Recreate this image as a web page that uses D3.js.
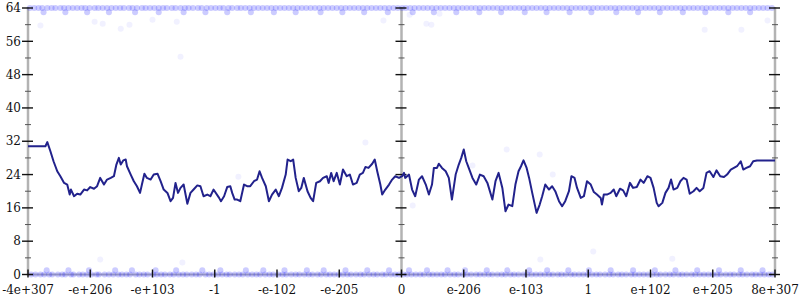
<!DOCTYPE html>
<html>
<head>
    <title>Float distribution</title>
    <script src="https://d3js.org/d3.v7.min.js"></script>
    <style>
        body { margin: 0; background: #fff; }
        text { font-family: "DejaVu Serif", serif; font-size: 12px; fill: #111; }
    </style>
</head>
<body>
<svg width="800" height="300"></svg>
<script>
    // x positions are in tick units along the axis (-6 .. 6), one unit per labelled tick
    const xTickLabels = ["-4e+307", "-e+206", "-e+103", "-1", "-e-102", "-e-205", "0",
                         "e-206", "e-103", "1", "e+102", "e+205", "8e+307"];
    const yTicks = [0, 8, 16, 24, 32, 40, 48, 56, 64];

    // running average line
    const avgX = [-6.00, -5.72, -5.69, -5.64, -5.59, -5.53, -5.48, -5.42, -5.37, -5.33, -5.31, -5.26, -5.21, -5.16,
        -5.10, -5.05, -5.00, -4.94, -4.89, -4.84, -4.78, -4.73, -4.67, -4.62, -4.58, -4.54, -4.51, -4.47, -4.43,
        -4.41, -4.35, -4.30, -4.25, -4.20, -4.17, -4.13, -4.09, -4.03, -3.98, -3.92, -3.87, -3.82, -3.76, -3.71,
        -3.67, -3.63, -3.59, -3.55, -3.50, -3.44, -3.39, -3.34, -3.28, -3.23, -3.18, -3.12, -3.07, -3.02, -2.93,
        -2.90, -2.85, -2.80, -2.75, -2.72, -2.68, -2.64, -2.59, -2.53, -2.48, -2.43, -2.37, -2.32, -2.28, -2.24,
        -2.18, -2.13, -2.08, -2.02, -1.97, -1.92, -1.86, -1.83, -1.78, -1.74, -1.70, -1.65, -1.61, -1.57, -1.51,
        -1.46, -1.42, -1.37, -1.31, -1.26, -1.20, -1.17, -1.13, -1.09, -1.04, -0.99, -0.94, -0.88, -0.83, -0.78,
        -0.72, -0.67, -0.62, -0.58, -0.53, -0.47, -0.43, -0.39, -0.34, -0.31, -0.26, -0.20, -0.15, -0.10, -0.04,
        0.01, 0.04, 0.06, 0.12, 0.17, 0.22, 0.28, 0.33, 0.39, 0.44, 0.49, 0.52, 0.57, 0.60, 0.65, 0.71, 0.76,
        0.81, 0.87, 0.92, 0.96, 1.00, 1.04, 1.08, 1.14, 1.20, 1.26, 1.32, 1.38, 1.46, 1.51, 1.56, 1.62, 1.67,
        1.72, 1.78, 1.83, 1.88, 1.92, 1.96, 2.01, 2.05, 2.10, 2.17, 2.22, 2.26, 2.31, 2.37, 2.42, 2.47, 2.53,
        2.58, 2.63, 2.69, 2.73, 2.78, 2.82, 2.88, 2.93, 2.98, 3.04, 3.09, 3.14, 3.20, 3.22, 3.25, 3.30, 3.36,
        3.41, 3.45, 3.51, 3.56, 3.61, 3.67, 3.72, 3.78, 3.84, 3.89, 3.95, 4.00, 4.05, 4.10, 4.13, 4.19, 4.24,
        4.29, 4.33, 4.37, 4.43, 4.48, 4.53, 4.58, 4.63, 4.69, 4.74, 4.79, 4.85, 4.90, 4.95, 5.01, 5.06, 5.12,
        5.18, 5.23, 5.29, 5.34, 5.39, 5.45, 5.49, 5.54, 5.60, 5.65, 5.71, 6.00];
    const avgY = [30.8, 30.8, 31.8, 29.6, 27.2, 24.8, 23.6, 22.0, 21.6, 19.2, 20.4, 18.8, 19.4, 19.2,
        20.4, 20.2, 21.0, 20.6, 21.2, 23.2, 21.6, 22.8, 23.2, 23.6, 26.4, 28.0, 26.4, 27.4, 27.6,
        26.0, 24.0, 22.4, 21.2, 19.6, 21.6, 24.2, 23.2, 22.8, 24.0, 24.2, 22.4, 20.4, 19.6, 17.6,
        18.4, 22.0, 19.6, 20.8, 21.6, 17.0, 19.6, 20.4, 21.4, 21.2, 18.8, 19.2, 18.8, 20.4, 18.4,
        17.6, 18.8, 21.0, 21.2, 19.6, 18.0, 18.0, 17.6, 21.6, 21.2, 21.2, 22.4, 22.8, 24.8, 23.2,
        21.2, 17.6, 19.2, 20.4, 18.8, 20.8, 24.0, 27.6, 27.2, 27.6, 23.2, 20.0, 20.8, 23.2, 20.0,
        18.4, 17.6, 22.0, 22.4, 23.2, 23.6, 22.0, 24.4, 22.4, 24.4, 21.6, 25.2, 23.6, 24.0, 21.6,
        22.0, 24.0, 24.4, 25.8, 25.6, 26.6, 27.6, 24.8, 21.6, 19.2, 20.4, 21.6, 22.8, 23.6, 23.2,
        23.6, 24.4, 23.2, 24.0, 20.4, 18.8, 22.8, 23.6, 21.6, 19.2, 21.6, 25.6, 25.6, 26.6, 25.6, 24.8, 23.2,
        18.0, 24.0, 26.4, 28.0, 30.0, 27.2, 25.6, 23.2, 21.6, 24.0, 23.6, 22.0, 18.0, 22.4, 24.4, 20.8, 15.2,
        16.8, 16.4, 21.6, 24.8, 26.0, 27.4, 25.6, 23.2, 19.6, 14.8, 16.8, 18.8, 21.6, 20.4, 21.2, 20.0, 17.6,
        16.4, 17.6, 20.0, 23.6, 23.2, 20.8, 18.4, 18.8, 22.4, 21.6, 19.8, 19.2, 18.4, 16.8, 19.2, 19.2, 19.6,
        20.4, 18.8, 20.6, 20.2, 18.8, 22.0, 20.8, 21.0, 22.8, 22.0, 23.6, 23.2, 20.8, 17.2, 16.4, 17.2, 19.6,
        20.8, 22.8, 20.4, 20.8, 22.4, 23.2, 22.8, 19.4, 20.0, 20.8, 20.0, 20.8, 24.4, 24.8, 23.4, 25.0, 23.6,
        23.4, 24.0, 25.2, 25.6, 26.0, 27.2, 25.2, 25.6, 26.0, 27.2, 27.4, 27.4];

    // samples piled at the bottom (0 and 1) and top (63 and 64)
    const lowX = [-5.95, -5.88, -5.80, -5.74, -5.66, -5.61, -5.52, -5.45, -5.40, -5.31, -5.27, -5.18, -5.12, -5.05,
        -4.98, -4.90, -4.86, -4.77, -4.70, -4.63, -4.55, -4.49, -4.42, -4.36, -4.27, -4.21, -4.14, -4.08, -3.99,
        -3.93, -3.86, -3.80, -3.72, -3.66, -3.58, -3.51, -3.45, -3.37, -3.30, -3.24, -3.15, -3.09, -3.02, -2.95,
        -2.88, -2.81, -2.76, -2.68, -2.61, -2.55, -2.47, -2.40, -2.33, -2.27, -2.19, -2.12, -2.06, -1.98, -1.91,
        -1.85, -1.77, -1.70, -1.64, -1.56, -1.49, -1.43, -1.35, -1.29, -1.21, -1.15, -1.08, -1.01, -0.94, -0.87,
        -0.81, -0.73, -0.66, -0.60, -0.52, -0.45, -0.39, -0.31, -0.25, -0.17, -0.10, -0.04, 0.03, 0.09, 0.16,
        0.23, 0.30, 0.36, 0.44, 0.50, 0.57, 0.64, 0.70, 0.78, 0.85, 0.91, 0.99, 1.05, 1.12, 1.20, 1.26, 1.33,
        1.40, 1.46, 1.54, 1.61, 1.67, 1.75, 1.81, 1.88, 1.96, 2.02, 2.09, 2.16, 2.23, 2.30, 2.37, 2.43, 2.51,
        2.57, 2.64, 2.72, 2.78, 2.85, 2.92, 2.99, 3.06, 3.13, 3.19, 3.27, 3.34, 3.40, 3.48, 3.54, 3.61, 3.69,
        3.75, 3.82, 3.89, 3.96, 4.03, 4.10, 4.16, 4.24, 4.31, 4.37, 4.45, 4.51, 4.58, 4.66, 4.72, 4.79, 4.86,
        4.93, 5.00, 5.07, 5.13, 5.21, 5.28, 5.34, 5.42, 5.48, 5.55, 5.63, 5.69, 5.76, 5.83, 5.90, 5.96];
    const low1X = [-5.70, -5.35, -5.02, -4.60, -4.33, -3.95, -3.62, -3.20, -2.91, -2.50, -2.22, -1.88, -1.52,
        -1.25, -0.90, -0.55, -0.20, 0.12, 0.41, 0.74, 1.02, 1.37, 1.70, 2.05, 2.34, 2.68, 3.01, 3.36, 3.72,
        4.07, 4.40, 4.75, 5.10, 5.45, 5.80];
    const highX = [-5.97, -5.90, -5.83, -5.77, -5.69, -5.62, -5.56, -5.48, -5.42, -5.35, -5.28, -5.21, -5.14,
        -5.08, -5.01, -4.93, -4.87, -4.80, -4.73, -4.66, -4.59, -4.52, -4.46, -4.38, -4.32, -4.25, -4.17, -4.11,
        -4.04, -3.97, -3.90, -3.83, -3.77, -3.69, -3.63, -3.55, -3.48, -3.42, -3.35, -3.27, -3.21, -3.13, -3.06,
        -2.99, -2.92, -2.86, -2.78, -2.72, -2.64, -2.58, -2.51, -2.44, -2.37, -2.30, -2.23, -2.16, -2.09, -2.02,
        -1.95, -1.88, -1.81, -1.74, -1.67, -1.60, -1.53, -1.46, -1.39, -1.32, -1.25, -1.18, -1.11, -1.04, -0.97,
        -0.90, -0.83, -0.76, -0.69, -0.62, -0.55, -0.48, -0.41, -0.34, -0.27, -0.20, -0.13, -0.06, 0.01, 0.07,
        0.14, 0.21, 0.28, 0.35, 0.42, 0.49, 0.56, 0.63, 0.70, 0.77, 0.84, 0.91, 0.98, 1.05, 1.12, 1.19, 1.26,
        1.33, 1.40, 1.47, 1.54, 1.61, 1.68, 1.75, 1.82, 1.89, 1.96, 2.03, 2.10, 2.17, 2.24, 2.31, 2.38, 2.45,
        2.52, 2.59, 2.66, 2.73, 2.80, 2.87, 2.94, 3.01, 3.08, 3.15, 3.22, 3.29, 3.36, 3.43, 3.50, 3.57, 3.64,
        3.71, 3.78, 3.85, 3.92, 3.99, 4.06, 4.13, 4.20, 4.27, 4.34, 4.41, 4.48, 4.55, 4.62, 4.69, 4.76, 4.83,
        4.90, 4.97, 5.04, 5.11, 5.18, 5.25, 5.32, 5.39, 5.46, 5.53, 5.60, 5.67, 5.74, 5.81, 5.88, 5.95];
    const high63X = [-5.75, -5.40, -5.05, -4.70, -4.28, -3.90, -3.50, -3.15, -2.80, -2.42, -2.05, -1.70, -1.30,
        -0.95, -0.60, -0.22, 0.18, 0.52, 0.88, 1.25, 1.60, 1.98, 2.33, 2.70, 3.05, 3.45, 3.80, 4.15, 4.52,
        4.88, 5.25, 5.60];

    // scattered samples away from the bands
    const strayX = [-5.80, -4.93, -4.80, -4.51, -4.37, -4.00, -3.61, -3.55, -0.29, 0.13, 0.40, 0.48, 0.61,
        5.88, 4.87, 5.46, -3.52, 2.23, 3.08, 4.35, 1.69, 2.22, 2.43, 0.18, 1.14, -2.62, -0.58, -4.84];
    const strayY = [59.8, 60.7, 60.2, 59.0, 60.0, 61.2, 60.7, 52.3, 61.0, 62.4, 60.2, 60.0, 62.6,
        61.0, 58.8, 58.8, 2.9, 3.6, 5.5, 3.8, 30.0, 28.8, 24.0, 16.6, 26.2, 23.5, 31.7, 3.6];

    const svg = d3.select("svg");
    const x = d3.scaleLinear().domain([-6, 6]).range([28, 775]);
    const y = d3.scaleLinear().domain([0, 64]).range([274.5, 8]);

    const band = [];
    lowX.forEach(v => band.push([v, 0]));
    low1X.forEach(v => band.push([v, 1]));
    highX.forEach(v => band.push([v, 64]));
    high63X.forEach(v => band.push([v, 63]));
    const strays = strayX.map((v, i) => [v, strayY[i]]);

    // axes lines
    const axisColor = "#b3b3b3";
    svg.append("line")
        .attr("x1", x(-6)).attr("x2", x(6))
        .attr("y1", y(0)).attr("y2", y(0))
        .attr("stroke", axisColor).attr("stroke-width", 2);
    [-6, 0, 6].forEach(u => {
        svg.append("line")
            .attr("x1", x(u)).attr("x2", x(u))
            .attr("y1", y(64) - 1).attr("y2", y(0) + 1)
            .attr("stroke", axisColor).attr("stroke-width", 2.5);
    });

    // points
    svg.append("g").selectAll("circle")
        .data(band)
        .enter().append("circle")
        .attr("cx", d => x(d[0]))
        .attr("cy", d => y(d[1]))
        .attr("r", 3)
        .attr("fill", "#2a2aff")
        .attr("fill-opacity", 0.24);
    svg.append("g").selectAll("circle")
        .data(strays)
        .enter().append("circle")
        .attr("cx", d => x(d[0]))
        .attr("cy", d => y(d[1]))
        .attr("r", 3)
        .attr("fill", "#3333ff")
        .attr("fill-opacity", 0.07);

    // y ticks on all three vertical axes
    const minorTicks = d3.range(4, 64, 8);
    [-6, 0, 6].forEach(u => {
        const g = svg.append("g");
        g.selectAll(".maj").data(yTicks).enter().append("line")
            .attr("x1", x(u) - 6).attr("x2", x(u) + 5)
            .attr("y1", d => y(d)).attr("y2", d => y(d))
            .attr("stroke", "#111").attr("stroke-width", 1.4);
        g.selectAll(".min").data(minorTicks).enter().append("line")
            .attr("x1", x(u) - 3).attr("x2", x(u) + 3)
            .attr("y1", d => y(d)).attr("y2", d => y(d))
            .attr("stroke", "#555").attr("stroke-width", 1);
    });

    svg.append("g").selectAll("text")
        .data(yTicks)
        .enter().append("text")
        .attr("x", 21)
        .attr("y", d => y(d))
        .attr("dy", "0.35em")
        .style("text-anchor", "end")
        .text(d => d);

    // x ticks and labels
    const xTicks = d3.range(-6, 7);
    svg.append("g").selectAll("line")
        .data(xTicks)
        .enter().append("line")
        .attr("x1", d => x(d)).attr("x2", d => x(d))
        .attr("y1", y(0) - 5).attr("y2", y(0) + 3)
        .attr("stroke", "#111").attr("stroke-width", 1.4);
    svg.append("g").selectAll("text")
        .data(xTicks)
        .enter().append("text")
        .attr("x", d => x(d))
        .attr("y", 294)
        .style("text-anchor", "middle")
        .text((d, i) => xTickLabels[i]);

    // average line
    const line = d3.line()
        .x(d => x(d[0]))
        .y(d => y(d[1]));
    svg.append("path")
        .datum(avgX.map((v, i) => [v, avgY[i]]))
        .attr("d", line)
        .attr("fill", "none")
        .attr("stroke", "#22228c")
        .attr("stroke-width", 2)
        .attr("stroke-linejoin", "round");
</script>
</body>
</html>
